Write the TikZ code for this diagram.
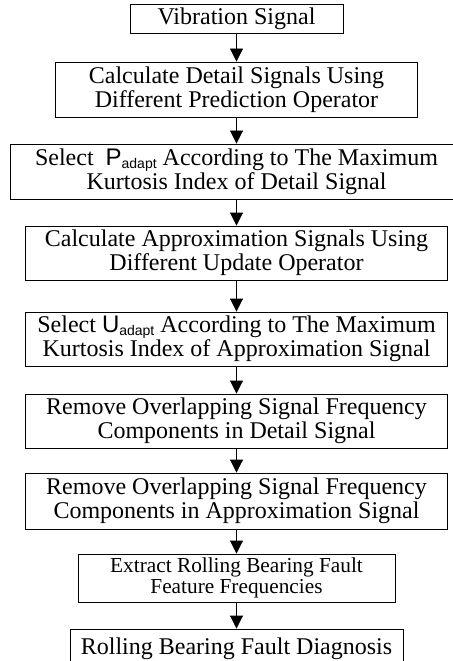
\documentclass[tikz,border=0pt]{standalone}
\usepackage{fontspec}
\setmainfont{Liberation Serif}
\setsansfont{Liberation Sans}
\usetikzlibrary{arrows.meta}
\newcommand{\adaptsym}[1]{{\sffamily #1}\raisebox{-3bp}{\fontsize{14bp}{14bp}\selectfont\sffamily adapt}}
\tikzset{
  box/.style={draw=black, line width=0.9bp, inner sep=0pt, align=center,
    font=\fontsize{24bp}{24bp}\selectfont},
  smallbox/.style={box, font=\fontsize{21.3bp}{21.5bp}\selectfont},
  arr/.style={draw=black, line width=0.9bp, -{Triangle[width=13bp,length=13bp]}}
}
\begin{document}
\begin{tikzpicture}[x=1bp,y=1bp]
\useasboundingbox (0,0) rectangle (453,-661);
\fill[white] (0,0) rectangle (453,-661);
\node[box, minimum width=213bp, minimum height=29bp] (b1) at (236.5,-18.5) {Vibration Signal};
\node[box, minimum width=362bp, minimum height=55bp] (b2) at (236.5,-89.5) {Calculate Detail Signals Using\\Different Prediction Operator};
\node[box, minimum width=452bp, minimum height=55bp] (b3) at (236.5,-171.5) {Select\ \ \adaptsym{P} According to The Maximum\\Kurtosis Index of Detail Signal};
\node[box, minimum width=422bp, minimum height=54bp] (b4) at (236.5,-253) {Calculate Approximation Signals Using\\Different Update Operator};
\node[box, minimum width=422bp, minimum height=54bp] (b5) at (236.5,-339) {Select \adaptsym{U} According to The Maximum\\Kurtosis Index of Approximation Signal};
\node[box, minimum width=422bp, minimum height=54bp] (b6) at (236.5,-421) {Remove Overlapping Signal Frequency\\Components in Detail Signal};
\node[box, minimum width=422bp, minimum height=56bp] (b7) at (236.5,-501) {Remove Overlapping Signal Frequency\\Components in Approximation Signal};
\node[smallbox, minimum width=317bp, minimum height=48bp] (b8) at (236.5,-578) {Extract Rolling Bearing Fault\\Feature Frequencies};
\node[box, minimum width=333bp, minimum height=40bp] (b9) at (236.5,-649) {Rolling Bearing Fault Diagnosis};
\draw[arr] (b1.south) -- (b2.north);
\draw[arr] (b2.south) -- (b3.north);
\draw[arr] (b3.south) -- (b4.north);
\draw[arr] (b4.south) -- (b5.north);
\draw[arr] (b5.south) -- (b6.north);
\draw[arr] (b6.south) -- (b7.north);
\draw[arr] (b7.south) -- (b8.north);
\draw[arr] (b8.south) -- (b9.north);
\end{tikzpicture}
\end{document}
